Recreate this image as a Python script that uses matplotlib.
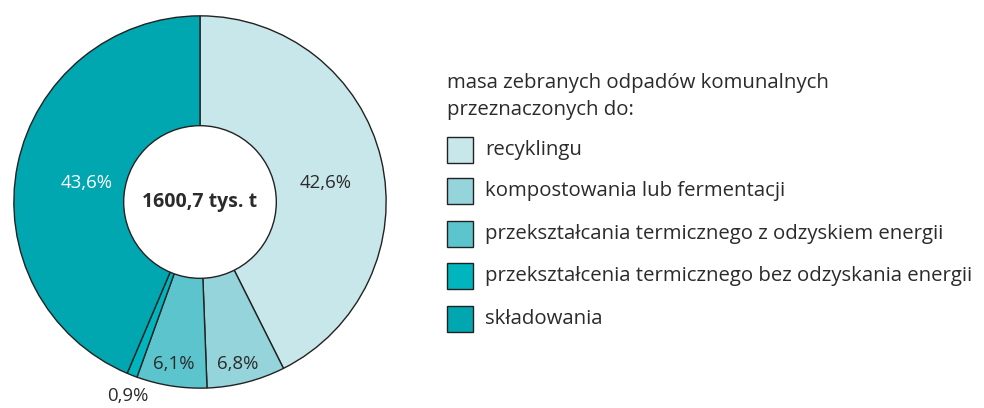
import matplotlib
matplotlib.use("Agg")
import matplotlib.pyplot as plt
from matplotlib.patches import Rectangle, Circle

categories = ["recyklingu", "kompostowania lub fermentacji",
              "przekształcania termicznego z odzyskiem energii",
              "przekształcenia termicznego bez odzyskania energii",
              "składowania"]
values = [42.6, 6.8, 6.1, 0.9, 43.6]
labels = ["42,6%", "6,8%", "6,1%", "0,9%", "43,6%"]
colors = ["#c8e7ea", "#94d4da", "#5cc4cc", "#00b5be", "#00a6b0"]
center_text = "1600,7 tys. t"
legend_title = ["masa zebranych odpadów komunalnych", "przeznaczonych do:"]

plt.rcParams['font.family'] = ['Open Sans', 'DejaVu Sans']
W, H = 984, 408
fig = plt.figure(figsize=(W/100, H/100), dpi=100)

cx, cy, r = 200, 202, 188
ax = fig.add_axes([(cx - r)/W, (H - cy - r)/H, 2*r/W, 2*r/H])
wedges, _ = ax.pie(values, colors=colors, startangle=90, counterclock=False,
                   radius=1, wedgeprops=dict(edgecolor="#222222", linewidth=1.0))
inner = 0.41
ax.add_patch(Circle((0, 0), inner, facecolor="white", edgecolor="#222222", linewidth=1.0, zorder=5))
ax.set_xlim(-1.01, 1.01)
ax.set_ylim(-1.01, 1.01)
ax.set_aspect("equal")
ax.axis("off")

txtc = "#2b2b2b"
ax.text(0, 0, center_text, ha="center", va="center", fontsize=14, fontweight="bold", color=txtc, zorder=6)

def px(x, y):
    return ((x - cx)/r, (cy - y)/r)

label_pos = [(327, 183), (238, 366), (173, 366), (127, 398), (85, 183)]
label_col = [txtc, txtc, txtc, txtc, "white"]
for lab, (x, y), c in zip(labels, label_pos, label_col):
    xx, yy = px(x, y)
    ax.text(xx, yy, lab, ha="center", va="center", fontsize=13.4, color=c, zorder=6, clip_on=False)

# legend
for t, y in zip(legend_title, [83, 110]):
    fig.text(447/W, 1 - y/H, t, ha="left", va="center", fontsize=14.7, color=txtc)
ys = [150, 191, 234, 276, 319]
bs = 26
for cat, col, y in zip(categories, colors, ys):
    fig.patches.append(Rectangle((447/W, 1 - (y + bs/2)/H), bs/W, bs/H,
                                 transform=fig.transFigure, facecolor=col,
                                 edgecolor="#222222", linewidth=1.0))
    fig.text(485/W, 1 - y/H, cat, ha="left", va="center", fontsize=14.7, color=txtc)

fig.savefig("out.png", dpi=100)
